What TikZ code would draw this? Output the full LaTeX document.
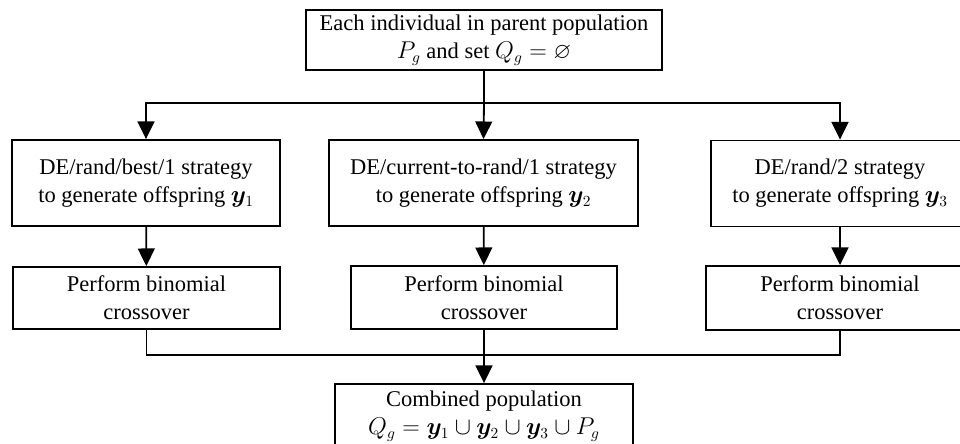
\documentclass[tikz,border=0pt]{standalone}
\usepackage{amsmath,amssymb,bm}
\usepackage{fontspec}
\setmainfont{Liberation Serif}
\usetikzlibrary{arrows.meta}
\tikzset{
  box/.style={draw,line width=1.3pt,inner sep=0pt,align=center,font=\fontsize{16}{20}\selectfont},
  arr/.style={line width=1.3pt,-{Triangle[length=0.44cm,width=0.42cm]}},
  link/.style={line width=1.3pt}
}
\begin{document}
\begin{tikzpicture}[x=0.025cm,y=-0.025cm]
\useasboundingbox (0,0) rectangle (960,444);
\clip (0,0) rectangle (960,444);
\node[box,minimum width=356*0.025cm,minimum height=60*0.025cm] (top) at (484,40)
  {Each individual in parent population\\ $P_g$ and set $Q_g=\varnothing$};
% strategies
\node[box,minimum width=268*0.025cm,minimum height=86*0.025cm] (s1) at (146,183)
  {DE/rand/best/1 strategy\\ to generate offspring $\bm{y}_1$};
\node[box,minimum width=309*0.025cm,minimum height=86*0.025cm] (s2) at (483.5,183)
  {DE/current-to-rand/1 strategy\\ to generate offspring $\bm{y}_2$};
\node[box,minimum width=258*0.025cm,minimum height=86*0.025cm] (s3) at (840,183.5)
  {DE/rand/2 strategy\\ to generate offspring $\bm{y}_3$};
% crossover
\node[box,minimum width=267*0.025cm,minimum height=62*0.025cm] (c1) at (146.5,298) {Perform binomial\\ crossover};
\node[box,minimum width=266*0.025cm,minimum height=63*0.025cm] (c2) at (484,297.5) {Perform binomial\\ crossover};
\node[box,minimum width=268*0.025cm,minimum height=64*0.025cm] (c3) at (840,298) {Perform binomial\\ crossover};
\node[box,minimum width=298*0.025cm,minimum height=64*0.025cm] (comb) at (484,416)
  {Combined population\\ $Q_g=\bm{y}_1\cup\bm{y}_2\cup\bm{y}_3\cup P_g$};
\coordinate (split) at (484,103);
\coordinate (join) at (484,355);
\draw[link] (top.south) -- (split);
\draw[arr] (split) -| (s1.north);
\draw[arr] (split) -- (s2.north);
\draw[arr] (split) -| (s3.north);
\draw[arr] (s1) -- (c1);
\draw[arr] (s2) -- (c2);
\draw[arr] (s3) -- (c3);
\draw[link] (c1.south) |- (join) -| (c3.south);
\draw[arr] (c2) -- (comb);
\end{tikzpicture}
\end{document}
